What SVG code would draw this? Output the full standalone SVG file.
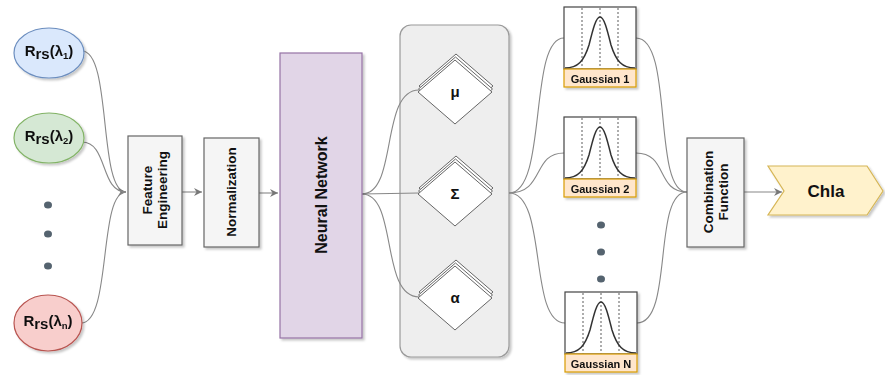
<svg xmlns="http://www.w3.org/2000/svg" xmlns:xlink="http://www.w3.org/1999/xlink" width="885" height="375" viewBox="0 0 885 375">
<style>
text{font-family:"Liberation Sans",Arial,sans-serif;fill:#111;}
.lbl{font-weight:bold;font-size:15px;text-anchor:middle;}
.box{fill:#f5f5f5;stroke:#666;stroke-width:1.2;}
.bt{font-size:13.5px;font-weight:bold;text-anchor:middle;}
.edge{fill:none;stroke:#888;stroke-width:1.1;}
.dot{fill:#55636f;}
.dia{fill:#fff;stroke:#666;stroke-width:1;}
.gl{font-size:11px;font-weight:bold;text-anchor:middle;}
</style>
<defs>
<filter id="sh" x="-20%" y="-20%" width="140%" height="140%">
<feDropShadow dx="2" dy="2" stdDeviation="1.2" flood-color="#000" flood-opacity="0.22"/>
</filter>
<marker id="arr" markerWidth="10" markerHeight="10" refX="8" refY="4" orient="auto" markerUnits="userSpaceOnUse">
<path d="M0,0 L8,4 L0,8 L2.5,4 Z" fill="#777"/>
</marker>
<g id="gauss">
<rect x="0" y="0" width="72" height="62" fill="#fff" stroke="#444" stroke-width="1.2"/>
<line x1="18" y1="1" x2="18" y2="62" stroke="#777" stroke-width="1.2" stroke-dasharray="2,2"/>
<line x1="36" y1="1" x2="36" y2="62" stroke="#777" stroke-width="1.2" stroke-dasharray="2,2"/>
<line x1="54" y1="1" x2="54" y2="62" stroke="#777" stroke-width="1.2" stroke-dasharray="2,2"/>
<path d="M1,61 C14,61 20,54 25,38 C29,22 32,10 36,10 C40,10 43,22 47,38 C52,54 58,61 71,61" fill="none" stroke="#333" stroke-width="1.5"/>
<rect x="0" y="62" width="72" height="18" fill="#ffe6cc" stroke="#d79b00" stroke-width="1.2"/>
</g>
<g id="dstack">
<path d="M1,-38 L38,-6 L1,26 L-36,-6 Z" class="dia"/>
<path d="M0.5,-35 L37.5,-3 L0.5,29 L-36.5,-3 Z" class="dia"/>
<path d="M0,-32 L37,0 L0,32 L-37,0 Z" class="dia"/>
</g>
</defs>

<g id="params" filter="url(#sh)">
<rect x="400" y="25" width="109" height="332" rx="11" ry="11" fill="#eeeeee" stroke="#9a9a9a" stroke-width="1.2"/>
</g>

<g id="connectors">
<path class="edge" d="M82,51 C112,51 98,192 126,192" marker-end="url(#arr)"/>
<path class="edge" d="M82,142 C108,142 100,192 126,192"/>
<path class="edge" d="M81,323 C112,323 98,192 126,192"/>
<line class="edge" x1="182" y1="192" x2="202" y2="192" marker-end="url(#arr)"/>
<line class="edge" x1="259" y1="193" x2="278" y2="193" marker-end="url(#arr)"/>
<path class="edge" d="M362,194 C398,194 380,90 419,90"/>
<path class="edge" d="M362,194 L419,193"/>
<path class="edge" d="M362,194 C398,194 380,297 419,297"/>
<path class="edge" d="M509,193 C548,193 528,38 564,38"/>
<path class="edge" d="M509,193 C545,193 532,153 564,153"/>
<path class="edge" d="M509,193 C548,193 528,323 565,323"/>
<path class="edge" d="M636,38 C674,38 652,192 687,192"/>
<path class="edge" d="M636,153 C668,153 656,192 687,192"/>
<path class="edge" d="M637,323 C674,323 652,192 687,192"/>
<line class="edge" x1="744" y1="192" x2="782" y2="192" marker-end="url(#arr)"/>
</g>

<g id="r1" filter="url(#sh)">
<ellipse cx="49" cy="53" rx="35" ry="25" fill="#dae8fc" stroke="#6c8ebf" stroke-width="1.2"/>
<text class="lbl" x="49" y="56">R<tspan dy="3">rs</tspan><tspan dy="-3">(λ</tspan><tspan dy="3" font-size="9.5">1</tspan><tspan dy="-3">)</tspan></text>
</g>
<g id="r2" filter="url(#sh)">
<ellipse cx="49" cy="138" rx="35" ry="25" fill="#d5e8d4" stroke="#82b366" stroke-width="1.2"/>
<text class="lbl" x="49" y="141">R<tspan dy="3">rs</tspan><tspan dy="-3">(λ</tspan><tspan dy="3" font-size="9.5">2</tspan><tspan dy="-3">)</tspan></text>
</g>
<g id="dots-left">
<ellipse class="dot" cx="48" cy="205" rx="4" ry="3.5"/>
<ellipse class="dot" cx="48" cy="234" rx="4" ry="3.5"/>
<ellipse class="dot" cx="48" cy="266" rx="4" ry="3.5"/>
</g>
<g id="rn" filter="url(#sh)">
<ellipse cx="48" cy="323" rx="34" ry="28" fill="#f8cecc" stroke="#b85450" stroke-width="1.2"/>
<text class="lbl" x="48" y="326">R<tspan dy="3">rs</tspan><tspan dy="-3">(λ</tspan><tspan dy="3" font-size="9.5">n</tspan><tspan dy="-3">)</tspan></text>
</g>

<g id="feature-engineering">
<rect class="box" x="128" y="136" width="54" height="109" filter="url(#sh)"/>
<text class="bt" transform="translate(155,190) rotate(-90)"><tspan x="0" y="-3">Feature</tspan><tspan x="0" y="12">Engineering</tspan></text>
</g>
<g id="normalization">
<rect class="box" x="204" y="138" width="55" height="109" filter="url(#sh)"/>
<text class="bt" transform="translate(236,192) rotate(-90)" x="0" y="0">Normalization</text>
</g>
<g id="neural-network">
<rect x="280" y="53" width="82" height="285" fill="#e1d5e7" stroke="#9673a6" stroke-width="1.2" filter="url(#sh)"/>
<text transform="translate(327,195) rotate(-90)" x="0" y="0" font-size="16" font-weight="bold" text-anchor="middle">Neural Network</text>
</g>

<g id="mu"><use xlink:href="#dstack" href="#dstack" transform="translate(455,92)"/><text x="455" y="97" font-size="15" font-weight="bold" text-anchor="middle">μ</text></g>
<g id="sigma"><use xlink:href="#dstack" href="#dstack" transform="translate(455,194)"/><text x="455" y="199" font-size="15" font-weight="bold" text-anchor="middle">Σ</text></g>
<g id="alpha"><use xlink:href="#dstack" href="#dstack" transform="translate(455,298)"/><text x="455" y="303" font-size="15" font-weight="bold" text-anchor="middle">α</text></g>

<g id="gaussian-1" filter="url(#sh)"><use xlink:href="#gauss" href="#gauss" transform="translate(564,7)"/><text class="gl" x="600" y="83">Gaussian 1</text></g>
<g id="gaussian-2" filter="url(#sh)"><use xlink:href="#gauss" href="#gauss" transform="translate(564,117)"/><text class="gl" x="600" y="193">Gaussian 2</text></g>
<g id="dots-mid">
<ellipse class="dot" cx="601" cy="225" rx="4" ry="3.5"/>
<ellipse class="dot" cx="601" cy="252" rx="4" ry="3.5"/>
<ellipse class="dot" cx="601" cy="279" rx="4" ry="3.5"/>
</g>
<g id="gaussian-n" filter="url(#sh)"><use xlink:href="#gauss" href="#gauss" transform="translate(565,292)"/><text class="gl" x="601" y="368">Gaussian N</text></g>

<g id="combination-function">
<rect class="box" x="687" y="138" width="57" height="109" filter="url(#sh)"/>
<text class="bt" transform="translate(716,192) rotate(-90)"><tspan x="0" y="-3">Combination</tspan><tspan x="0" y="12">Function</tspan></text>
</g>
<g id="chla">
<polygon points="768,166 867,166 883,191 867,215 768,215 784,191" fill="#fff2cc" stroke="#d6b656" stroke-width="1.2" filter="url(#sh)"/>
<text x="826" y="197" font-size="17" font-weight="bold" text-anchor="middle">Chla</text>
</g>
</svg>
